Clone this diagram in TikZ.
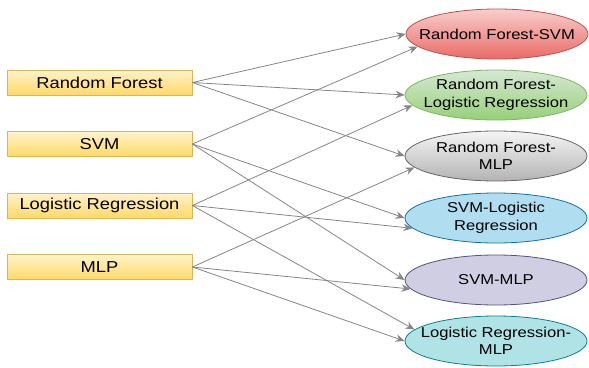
\documentclass[tikz,border=0pt]{standalone}
\usepackage{fontspec}
\setmainfont{Liberation Sans}[FakeStretch=1.16]
\usetikzlibrary{shapes.geometric,arrows.meta}

\definecolor{boxtop}{HTML}{FFF2CC}
\definecolor{boxbot}{HTML}{FFD966}
\definecolor{boxline}{HTML}{D6B656}
\definecolor{redtop}{HTML}{F8CECC}
\definecolor{redbot}{HTML}{EA6B66}
\definecolor{redline}{HTML}{B85450}
\definecolor{grntop}{HTML}{D5E8D4}
\definecolor{grnbot}{HTML}{97D077}
\definecolor{grnline}{HTML}{82B366}
\definecolor{grytop}{HTML}{F5F5F5}
\definecolor{grybot}{HTML}{B3B3B3}
\definecolor{gryline}{HTML}{666666}
\definecolor{bluefill}{HTML}{B1DDF0}
\definecolor{blueline}{HTML}{10739E}
\definecolor{purpfill}{HTML}{D0CEE2}
\definecolor{purpline}{HTML}{56517E}
\definecolor{tealfill}{HTML}{B0E3E6}
\definecolor{tealline}{HTML}{0E8088}
\definecolor{edgecol}{HTML}{858585}

\tikzset{
  model/.style={draw=boxline, line width=0.8pt, top color=boxtop, bottom color=boxbot,
    minimum width=185pt, minimum height=25pt, inner sep=0pt,
    font=\fontsize{15.8}{18}\selectfont},
  % fixed-size ellipse; its caption sits in a centred label so it does not widen the shape
  combo/.style={ellipse, line width=0.8pt, minimum width=182pt, minimum height=50pt,
    inner sep=0pt, label={[align=center, font=\fontsize{14.3}{17.5}\selectfont, inner sep=0pt]center:#1}},
  link/.style={draw=edgecol, line width=0.8pt, -{Stealth[length=9pt,width=7.5pt]}}
}

\begin{document}
\begin{tikzpicture}[x=1pt,y=-1pt]
  \useasboundingbox (0,0) rectangle (589,367);

  % base models
  \node[model] (rf)  at (99.5,82.5) {Random Forest};
  \node[model] (svm) at (99.5,144)  {SVM};
  \node[model] (lr)  at (99.5,205.5) {Logistic Regression};
  \node[model] (mlp) at (99.5,267)  {MLP};

  % pairwise combinations
  \node[combo={Random Forest-SVM}, draw=redline, top color=redtop, bottom color=redbot] (rfsvm) at (497,34) {};
  \node[combo={Random Forest-\\Logistic Regression}, draw=grnline, top color=grntop, bottom color=grnbot] (rflr) at (496,95) {};
  \node[combo={Random Forest-\\MLP}, draw=gryline, top color=grytop, bottom color=grybot] (rfmlp) at (496,156) {};
  \node[combo={SVM-Logistic\\Regression}, draw=blueline, fill=bluefill] (svmlr) at (496,218) {};
  \node[combo={SVM-MLP}, draw=purpline, fill=purpfill] (svmmlp) at (496,280) {};
  \node[combo={Logistic Regression-\\MLP}, draw=tealline, fill=tealfill] (lrmlp) at (496,341) {};

  % connections
  \draw[link] (rf.east) -- (rfsvm.180);
  \draw[link] (rf.east) -- (rflr.180);
  \draw[link] (rf.east) -- (rfmlp.180);

  \draw[link] (svm.east) -- (rfsvm.189);
  \draw[link] (svm.east) -- (svmlr.180);
  \draw[link] (svm.east) -- (svmmlp.180);

  \draw[link] (lr.east) -- (rflr.187);
  \draw[link] (lr.east) -- (svmlr.187);
  \draw[link] (lr.east) -- (lrmlp.172);

  \draw[link] (mlp.east) -- (rfmlp.188);
  \draw[link] (mlp.east) -- (svmmlp.186);
  \draw[link] (mlp.east) -- (lrmlp.180);
\end{tikzpicture}
\end{document}
